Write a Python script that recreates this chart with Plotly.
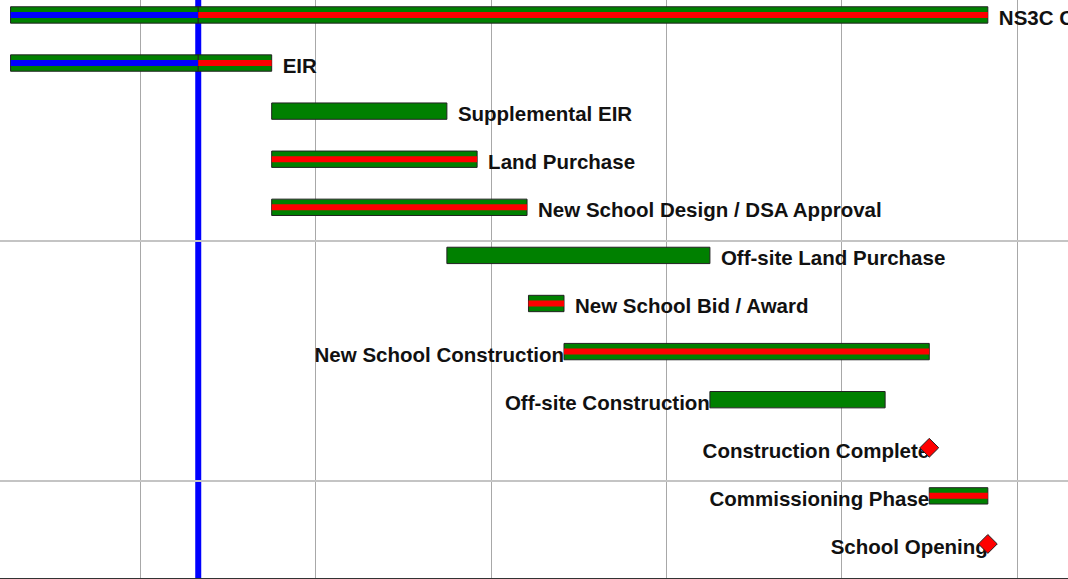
import plotly.graph_objects as go
import pandas as pd

# schedule data
tasks = ["NS3C Campus", "EIR", "Supplemental EIR", "Land Purchase",
         "New School Design / DSA Approval", "Off-site Land Purchase",
         "New School Bid / Award", "New School Construction",
         "Off-site Construction", "Construction Complete",
         "Commissioning Phase", "School Opening"]
starts = ["2009-04-05", "2009-04-05", "2010-10-01", "2010-10-01",
          "2010-10-01", "2011-10-01", "2012-03-19", "2012-06-01",
          "2013-04-01", "2014-07-02", "2014-07-02", "2014-11-01"]
finishes = ["2014-11-01", "2010-10-01", "2011-10-01", "2011-12-03",
            "2012-03-16", "2013-04-01", "2012-06-01", "2014-07-02",
            "2014-04-01", "2014-07-02", "2014-11-01", "2014-11-01"]
baseline = [True, True, False, True, True, False, True, True, False, False, True, False]
label_side = ["right"] * 7 + ["left"] * 5
status_date = "2010-05-01"

status = pd.Timestamp(status_date)
rows = list(range(len(tasks)))

# split bars at the status date
bar_y, bar_base, bar_len = [], [], []
str_y, str_base, str_len, str_col = [], [], [], []
for i in rows:
    s, e = pd.Timestamp(starts[i]), pd.Timestamp(finishes[i])
    if s == e:
        continue
    cuts = [s, status, e] if s < status < e else [s, e]
    for a, b in zip(cuts[:-1], cuts[1:]):
        ms = (b - a).total_seconds() * 1000
        bar_y.append(i); bar_base.append(a.strftime("%Y-%m-%d")); bar_len.append(ms)
        if baseline[i]:
            str_y.append(i); str_base.append(a.strftime("%Y-%m-%d")); str_len.append(ms)
            str_col.append("#0000ff" if b <= status else "#ff0000")

fig = go.Figure()
fig.add_trace(go.Bar(y=bar_y, x=bar_len, base=bar_base, orientation="h", width=0.34,
                     marker=dict(color="#008000", line=dict(color="#222222", width=1)),
                     hoverinfo="skip"))
fig.add_trace(go.Bar(y=str_y, x=str_len, base=str_base, orientation="h", width=0.125,
                     marker=dict(color=str_col, line=dict(width=0)), hoverinfo="skip"))

# labels
lab_x = [finishes[i] if label_side[i] == "right" else starts[i] for i in rows]
lab_pos = ["middle right" if s == "right" else "middle left" for s in label_side]
lab_size = [16 if s == "right" else 0 for s in label_side]
fig.add_trace(go.Scatter(x=lab_x, y=[r + 0.1 for r in rows], mode="markers+text",
                         text=tasks, textposition=lab_pos,
                         marker=dict(size=lab_size, opacity=0, line=dict(width=0)),
                         textfont=dict(family="Liberation Sans, Arial", size=20.5,
                                       color="#111111", weight="bold"),
                         cliponaxis=False, hoverinfo="skip"))

# milestones
ms_rows = [i for i in rows if starts[i] == finishes[i]]
fig.add_trace(go.Scatter(x=[starts[i] for i in ms_rows], y=ms_rows, mode="markers",
                         marker=dict(symbol="diamond", size=14.5, color="#ff0000",
                                     line=dict(color="#222222", width=1)),
                         cliponaxis=False, hoverinfo="skip"))

fig.add_vline(x=status_date, line_color="#0000ff", line_width=6, layer="below")

fig.update_layout(width=1068, height=579,
                  margin=dict(l=0, r=0, t=0, b=1, autoexpand=False),
                  plot_bgcolor="white", paper_bgcolor="white",
                  showlegend=False, barmode="overlay")
fig.update_xaxes(type="date", range=["2009-03-14", "2015-04-17"],
                 tick0="2010-01-01", dtick="M12", showgrid=True,
                 gridcolor="#a8a8a8", gridwidth=1, showline=True,
                 linecolor="#333333", linewidth=2, showticklabels=False,
                 ticks="", zeroline=False)
fig.update_yaxes(range=[11.708, -0.311], tick0=4.70, dtick=5, showgrid=True,
                 gridcolor="#c4c4c4", gridwidth=2, showticklabels=False,
                 ticks="", zeroline=False)

# page has a default body margin, drop it so the chart fills the window
fig.write_html("out.html", config={"displayModeBar": False},
               post_script="document.body.style.margin='0';")
